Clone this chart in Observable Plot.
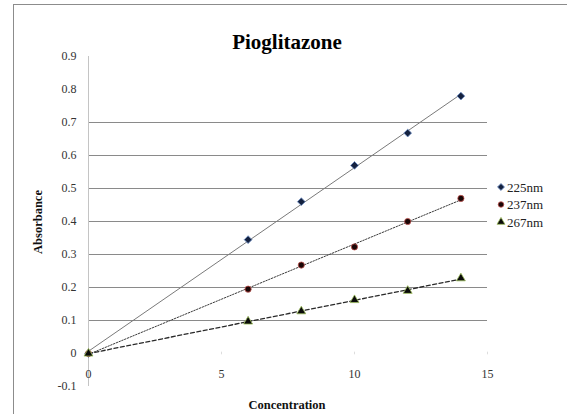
<!DOCTYPE html>
<html>
<head>
<meta charset="utf-8">
<script src="https://cdn.jsdelivr.net/npm/d3@7"></script>
<script src="https://cdn.jsdelivr.net/npm/@observablehq/plot@0.6"></script>
<style>
  html, body { margin: 0; padding: 0; background: #fff; }
  #wrap { position: relative; width: 567px; height: 414px; overflow: hidden; font-family: "Liberation Serif", "Times New Roman", "DejaVu Serif", serif; }
  #frame { position: absolute; left: 13px; top: 4px; width: 600px; height: 450px; border-left: 1px solid #8c8c8c; border-top: 1px solid #8c8c8c; box-sizing: border-box; }
  #chart { position: absolute; left: 0; top: 0; }
  #chart svg, #chart svg text, #chart svg g { font-family: "Liberation Serif", "Times New Roman", "DejaVu Serif", serif !important; }
</style>
</head>
<body>
<div id="wrap">
  <div id="frame"></div>
  <div id="chart"></div>
</div>
<script>
const title = "Pioglitazone";
const xLabel = "Concentration";
const yLabel = "Absorbance";
const seriesNames = ["225nm", "237nm", "267nm"];
const concentration = [0, 6, 8, 10, 12, 14];
const abs225 = [0, 0.345, 0.46, 0.57, 0.668, 0.78];
const abs237 = [0, 0.195, 0.268, 0.323, 0.40, 0.47];
const abs267 = [0, 0.097, 0.128, 0.162, 0.19, 0.228];
const xTicks = [0, 5, 10, 15];
const yTicks = [-0.1, 0, 0.1, 0.2, 0.3, 0.4, 0.5, 0.6, 0.7, 0.8, 0.9];
const gridValues = [0.1, 0.2, 0.3, 0.4, 0.5, 0.6, 0.7];

const FONT = '"Liberation Serif", "Times New Roman", "DejaVu Serif", serif';

const styles = {
  "225nm": {symbol: "square", rotate: 45, r: 3.1, fill: "#14213f", stroke: "#6f8fc4", line: "#7a7a7a", dash: null, width: 1},
  "237nm": {symbol: "circle", rotate: 0, r: 3.1, fill: "#1a0606", stroke: "#c0504d", line: "#3a3a3a", dash: "1.5,1.5", width: 1},
  "267nm": {symbol: "triangle", rotate: 0, r: 3.3, fill: "#0a0a0a", stroke: "#9bbb59", line: "#2a2a2a", dash: "4,2.5", width: 1.3}
};

const allValues = [abs225, abs237, abs267];
const data = [];
seriesNames.forEach((s, i) => concentration.forEach((c, j) => data.push({series: s, x: c, y: allValues[i][j]})));

const marks = [
  Plot.ruleY(gridValues, {y: d => d, x1: 0, x2: 15, stroke: "#8a8a8a", strokeWidth: 1}),
  Plot.ruleX([0], {x: d => d, y1: -0.1, y2: 0.9, stroke: "#c4c4c4", strokeWidth: 1}),
  Plot.ruleX(xTicks.slice(1), {x: d => d, y1: 0.004, y2: -0.004, stroke: "#dddddd"}),
  Plot.axisY({ticks: yTicks, tickSize: 0, tickPadding: 12, tickFormat: d => d === 0 ? "0" : d.toFixed(1), label: null, fontSize: 12, fill: "#333", fontFamily: FONT}),
  Plot.text(xTicks, {x: d => d, y: 0, dy: 21, text: d => String(d), fontSize: 12, fill: "#333", fontFamily: FONT})
];
seriesNames.forEach(s => {
  const st = styles[s];
  marks.push(Plot.linearRegressionY(data.filter(d => d.series === s), {x: "x", y: "y", ci: 0, stroke: st.line, strokeWidth: st.width, strokeDasharray: st.dash}));
});
seriesNames.forEach(s => {
  const st = styles[s];
  marks.push(Plot.dot(data.filter(d => d.series === s), {x: "x", y: "y", symbol: () => st.symbol, rotate: st.rotate, r: st.r, fill: st.fill, stroke: st.stroke, strokeWidth: 0.8}));
});

const chart = Plot.plot({
  width: 567,
  height: 414,
  marginLeft: 88,
  marginRight: 80,
  marginTop: 56,
  marginBottom: 28,
  style: {background: "transparent", overflow: "visible", fontFamily: FONT},
  x: {domain: [0, 15], axis: null},
  y: {domain: [-0.1, 0.9], axis: null},
  symbol: {type: "identity"},
  marks
});
document.getElementById("chart").appendChild(chart);

const svg = d3.select(chart);
svg.append("text").attr("x", 287).attr("y", 49).attr("text-anchor", "middle").style("font-family", FONT)
  .attr("font-size", 21).attr("font-weight", "bold").attr("fill", "#000").text(title);
svg.append("text").attr("x", 287).attr("y", 409).attr("text-anchor", "middle").style("font-family", FONT)
  .attr("font-size", 12.5).attr("font-weight", "bold").attr("fill", "#111").text(xLabel);
svg.append("text").attr("transform", "translate(42,222) rotate(-90)").attr("text-anchor", "middle").style("font-family", FONT)
  .attr("font-size", 12.5).attr("font-weight", "bold").attr("fill", "#111").text(yLabel);

const symMap = {square: d3.symbolSquare, circle: d3.symbolCircle, triangle: d3.symbolTriangle};
const leg = svg.append("g").attr("text-anchor", "start");
seriesNames.forEach((s, i) => {
  const st = styles[s];
  const y = 187 + i * 17.5;
  leg.append("path").attr("d", d3.symbol(symMap[st.symbol], st.r * st.r * Math.PI * 0.8)())
    .attr("transform", `translate(501,${y}) rotate(${st.rotate})`).attr("fill", st.fill).attr("stroke", st.stroke).attr("stroke-width", 0.8);
  leg.append("text").attr("x", 507).attr("y", y + 4.5).attr("text-anchor", "start").style("font-family", FONT)
    .attr("font-size", 13).attr("fill", "#222").text(s);
});
</script>
</body>
</html>
